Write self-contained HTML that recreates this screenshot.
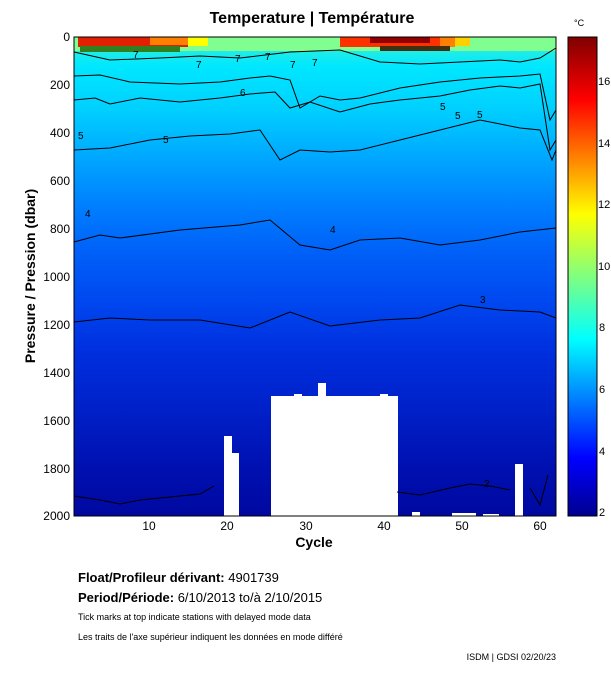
<!DOCTYPE html>
<html><head><meta charset="utf-8"><style>
body{margin:0;background:#fff;width:611px;height:675px;overflow:hidden;font-family:"Liberation Sans",sans-serif}
svg text{font-family:"Liberation Sans",sans-serif}
</style></head><body>
<svg width="611" height="675" viewBox="0 0 611 675" xmlns="http://www.w3.org/2000/svg">
<defs>
<linearGradient id="bg" x1="0" y1="0" x2="0" y2="1">
<stop offset="0" stop-color="#40f0d0"/>
<stop offset="0.06" stop-color="#00e8ff"/>
<stop offset="0.15" stop-color="#00d0ff"/>
<stop offset="0.25" stop-color="#00a8ff"/>
<stop offset="0.35" stop-color="#0080ff"/>
<stop offset="0.45" stop-color="#0060f8"/>
<stop offset="0.55" stop-color="#0048f0"/>
<stop offset="0.65" stop-color="#0030e0"/>
<stop offset="0.78" stop-color="#0020c8"/>
<stop offset="0.9" stop-color="#0010b0"/>
<stop offset="1" stop-color="#0008a0"/>
</linearGradient>
<linearGradient id="jet" x1="0" y1="1" x2="0" y2="0">
<stop offset="0" stop-color="#00008f"/>
<stop offset="0.12" stop-color="#0000ff"/>
<stop offset="0.37" stop-color="#00ffff"/>
<stop offset="0.5" stop-color="#80ff80"/>
<stop offset="0.63" stop-color="#ffff00"/>
<stop offset="0.87" stop-color="#ff0000"/>
<stop offset="1" stop-color="#800000"/>
</linearGradient>
</defs>
<text x="312" y="23" font-size="16" font-weight="bold" text-anchor="middle">Temperature | Température</text>
<rect x="74" y="37" width="482" height="479" fill="url(#bg)"/>
<rect x="74" y="37" width="482" height="14" fill="#80ff90"/>
<rect x="78" y="37" width="110" height="10" fill="#e02000"/>
<rect x="150" y="37" width="50" height="8" fill="#ff8000"/>
<rect x="188" y="37" width="20" height="9" fill="#ffff00"/>
<rect x="340" y="37" width="100" height="10" fill="#ff3000"/>
<rect x="370" y="37" width="60" height="6" fill="#900000"/>
<rect x="440" y="37" width="15" height="10" fill="#ff8000"/>
<rect x="455" y="37" width="15" height="9" fill="#ffd000"/>
<rect x="80" y="46" width="100" height="6" fill="#308020"/>
<rect x="380" y="46" width="70" height="5" fill="#403010"/>
<g fill="#fff">
<rect x="224" y="436" width="8" height="80"/>
<rect x="231" y="453" width="8" height="63"/>
<rect x="271" y="396" width="127" height="120"/>
<rect x="318" y="383" width="8" height="14"/>
<rect x="294" y="394" width="8" height="3"/>
<rect x="380" y="394" width="8" height="3"/>
<rect x="412" y="512" width="8" height="4"/>
<rect x="452" y="513" width="24" height="3"/>
<rect x="483" y="514" width="16" height="2"/>
<rect x="515" y="464" width="8" height="52"/>
</g>
<g fill="none" stroke="#000" stroke-width="1">
<polyline points="74,52 110,60 160,58 200,56 240,58 290,52 340,50 380,62 420,64 460,62 500,60 520,62 540,58 556,48"/>
<polyline points="74,76 100,75 130,82 180,84 220,82 250,78 270,76 290,80 300,108 320,96 340,100 360,98 400,88 440,82 480,78 520,76 540,74 550,120 556,110"/>
<polyline points="74,100 95,98 110,104 140,98 180,102 220,98 250,94 275,92 290,108 310,102 340,112 370,104 400,100 440,96 470,90 500,86 520,88 540,84 550,150 556,140"/>
<polyline points="74,150 110,148 150,140 190,136 230,134 260,130 280,160 300,150 330,152 360,150 400,140 440,130 480,120 520,128 540,130 552,160 556,150"/>
<polyline points="74,242 100,235 120,238 180,230 240,225 270,220 300,245 330,250 360,240 400,238 440,245 480,240 520,232 556,228"/>
<polyline points="74,322 110,318 150,320 200,320 250,328 290,312 330,326 380,320 420,318 460,305 500,310 540,312 556,318"/>
<polyline points="74,496 100,500 120,504 140,500 170,497 200,494 214,486"/>
<polyline points="397,492 420,495 450,488 470,484 490,486 510,490"/>
<polyline points="530,488 540,505 548,475"/>
</g>
<g font-size="10" fill="#000">
<text x="133" y="58">7</text><text x="196" y="68">7</text><text x="235" y="62">7</text><text x="265" y="60">7</text>
<text x="290" y="68">7</text><text x="312" y="66">7</text><text x="240" y="96">6</text><text x="78" y="139">5</text>
<text x="163" y="143">5</text><text x="440" y="110">5</text><text x="455" y="119">5</text><text x="477" y="118">5</text>
<text x="85" y="217">4</text><text x="330" y="233">4</text><text x="480" y="303">3</text><text x="484" y="487">2</text>
</g>
<rect x="74" y="37" width="482" height="479" fill="none" stroke="#000"/>
<g font-size="12" fill="#000" text-anchor="end">
<text x="70" y="41">0</text>
<text x="70" y="89">200</text><text x="70" y="137">400</text><text x="70" y="185">600</text>
<text x="70" y="233">800</text><text x="70" y="281">1000</text><text x="70" y="329">1200</text>
<text x="70" y="377">1400</text><text x="70" y="425">1600</text><text x="70" y="473">1800</text>
<text x="70" y="520">2000</text>
</g>
<g font-size="12" fill="#000" text-anchor="middle">
<text x="149" y="530">10</text><text x="227" y="530">20</text><text x="306" y="530">30</text>
<text x="384" y="530">40</text><text x="462" y="530">50</text><text x="540" y="530">60</text>
</g>
<text x="314" y="547" font-size="14" font-weight="bold" text-anchor="middle">Cycle</text>
<text transform="translate(35,276) rotate(-90)" font-size="14" font-weight="bold" text-anchor="middle">Pressure / Pression (dbar)</text>
<rect x="568" y="37" width="29" height="479" fill="url(#jet)" stroke="#000"/>
<text x="574" y="26" font-size="9">°C</text>
<g font-size="11" fill="#000">
<text x="599" y="516">2</text><text x="599" y="455">4</text><text x="599" y="393">6</text><text x="599" y="331">8</text>
<text x="598" y="270">10</text><text x="598" y="208">12</text><text x="598" y="147">14</text><text x="598" y="85">16</text>
</g>
<text x="78" y="582" font-size="13" font-weight="bold">Float/Profileur dérivant: <tspan font-weight="normal">4901739</tspan></text>
<text x="78" y="602" font-size="13" font-weight="bold">Period/Période: <tspan font-weight="normal">6/10/2013  to/à  2/10/2015</tspan></text>
<text x="78" y="620" font-size="9">Tick marks at top indicate stations with delayed mode data</text>
<text x="78" y="640" font-size="9">Les traits de l'axe supérieur indiquent les données en mode différé</text>
<text x="556" y="660" font-size="9" text-anchor="end">ISDM | GDSI  02/20/23</text>
</svg>
</body></html>
